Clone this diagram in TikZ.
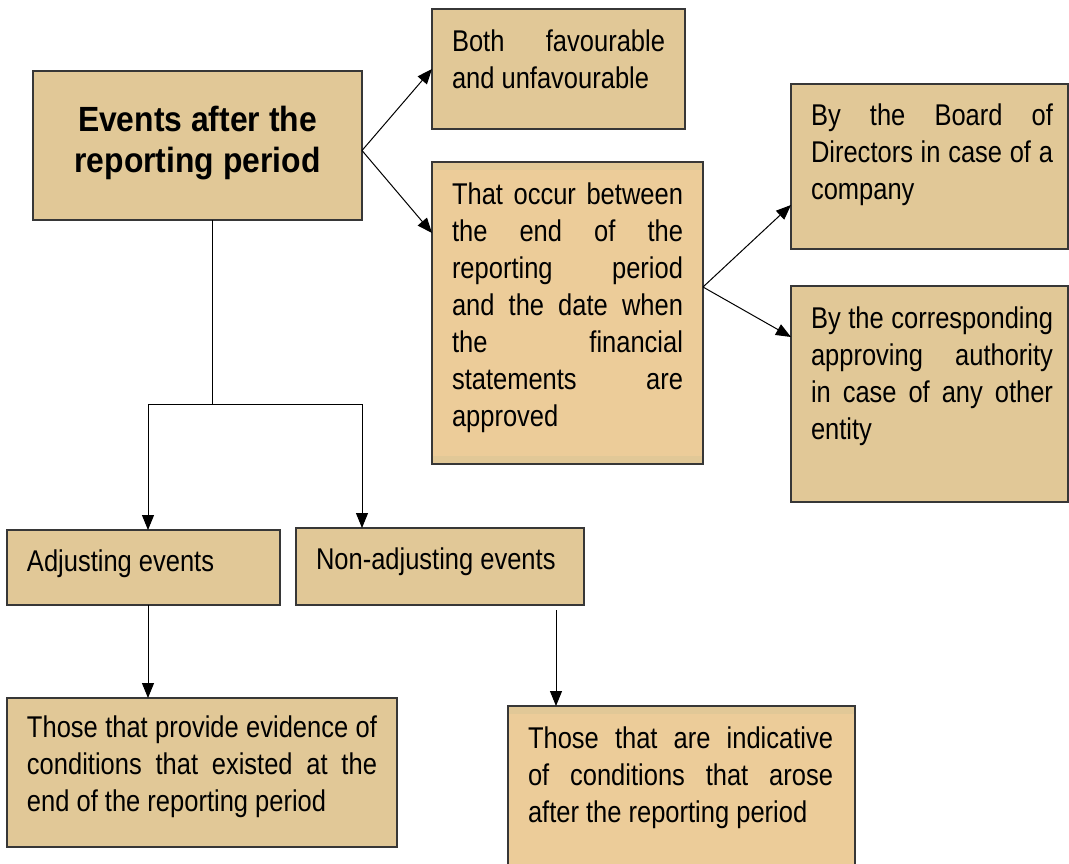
\documentclass[tikz,border=0pt]{standalone}
\usepackage{fontspec}
\setmainfont{Liberation Sans}[FakeStretch=0.85]
\newfontfamily\titlefont{Liberation Sans}[FakeStretch=0.91]
\usetikzlibrary{arrows.meta,calc}
\definecolor{tanbox}{RGB}{225,200,151}
\definecolor{orangebox}{RGB}{236,204,153}
\definecolor{edgegray}{RGB}{55,55,55}
\newcommand{\jl}[2]{\makebox[#1][s]{#2}}
\begin{document}
\begin{tikzpicture}[x=1pt,y=-1pt,
  box/.style={draw=edgegray,line width=1.2pt,fill=tanbox,inner sep=0pt,outer sep=0pt,anchor=north west},
  obox/.style={box,fill=orangebox},
  txt/.style={inner sep=0pt,outer sep=0pt,anchor=north west,align=left,font=\fontsize{30}{37}\selectfont},
  arr/.style={line width=1pt,-{Triangle[length=15pt,width=12pt]}},
  conn/.style={line width=1pt}]
\fill[white] (0,0) rectangle (1069,863);
\useasboundingbox (0,0) rectangle (1069,863);
% boxes
\node[box,minimum width=329pt,minimum height=149pt] (title) at (33,71) {};
\node[box,minimum width=253pt,minimum height=120pt] (b2) at (432,9) {};
\node[obox,minimum width=271pt,minimum height=302pt] (b3) at (432,162) {};
\fill[tanbox] ($(b3.north west)+(1,1)$) rectangle ($(b3.north east)+(-1,8)$);
\fill[tanbox] ($(b3.south west)+(1,-8)$) rectangle ($(b3.south east)+(-1,-1)$);
\node[box,minimum width=277pt,minimum height=165pt] (b4) at (791,84) {};
\node[box,minimum width=277pt,minimum height=216pt] (b5) at (791,286) {};
\node[box,minimum width=273pt,minimum height=75pt] (b6) at (7,530) {};
\node[box,minimum width=288pt,minimum height=77pt] (b7) at (296,528) {};
\node[box,minimum width=390pt,minimum height=149pt] (b8) at (7,698) {};
\node[obox,minimum width=347pt,minimum height=162pt] (b9) at (508,706) {};
\fill[tanbox] ($(b9.north west)+(1,1)$) rectangle ($(b9.north east)+(-1,8)$);
% texts
\node[inner sep=0pt,outer sep=0pt,anchor=north,align=center,font=\titlefont\bfseries\fontsize{35}{41}\selectfont] (ttitle) at (197.5,102.3) {\strut Events after the\\reporting period};
\node[txt] (t2) at (452,25.1) {\jl{213pt}{\strut Both favourable}\\and unfavourable};
\node[txt] (t3) at (452,178.1) {\jl{231pt}{\strut That occur between}\\\jl{231pt}{the end of the}\\\jl{231pt}{reporting period}\\\jl{231pt}{and the date when}\\\jl{231pt}{the financial}\\\jl{231pt}{statements are}\\approved};
\node[txt] (t4) at (811,99.1) {\jl{242pt}{\strut By the Board of}\\\jl{242pt}{Directors in case of a}\\company};
\node[txt] (t5) at (811,302.1) {\jl{242pt}{\strut By the corresponding}\\\jl{242pt}{approving authority}\\\jl{242pt}{in case of any other}\\entity};
\node[txt] (t6) at (27,545.6) {\strut Adjusting events};
\node[txt] (t7) at (316,543.1) {\strut Non-adjusting events};
\node[txt] (t8) at (27,711.1) {\jl{350pt}{\strut Those that provide evidence of}\\\jl{350pt}{conditions that existed at the}\\end of the reporting period};
\node[txt] (t9) at (528,722.1) {\jl{305pt}{\strut Those that are indicative}\\\jl{305pt}{of conditions that arose}\\after the reporting period};
% connectors
\draw[arr] ([yshift=-5pt]title.east) -- (b2.west);
\draw[arr] ([yshift=-5pt]title.east) -- ($(b3.north west)+(0,71)$);
\draw[arr] ($(b3.north east)+(0,125)$) -- ($(b4.north west)+(0,121)$);
\draw[arr] ($(b3.north east)+(0,125)$) -- ($(b5.north west)+(0,51)$);
\coordinate (topc) at ($(title.south west)+(179,0)$);
\coordinate (split) at ($(topc)+(0,184)$);
\coordinate (b6top) at ($(b6.north west)+(141,0)$);
\coordinate (b7top) at ($(b7.north west)+(66,0)$);
\draw[conn] (topc) -- (split);
\draw[arr] (split) -| (b6top);
\draw[arr] (split) -| (b7top);
\coordinate (b6bot) at ($(b6.south west)+(141,0)$);
\draw[arr] (b6bot) -- (b6bot |- b8.north);
\coordinate (c9) at ($(b9.north west)+(48,-96)$);
\draw[arr] (c9) -- (c9 |- b9.north);
\end{tikzpicture}
\end{document}
